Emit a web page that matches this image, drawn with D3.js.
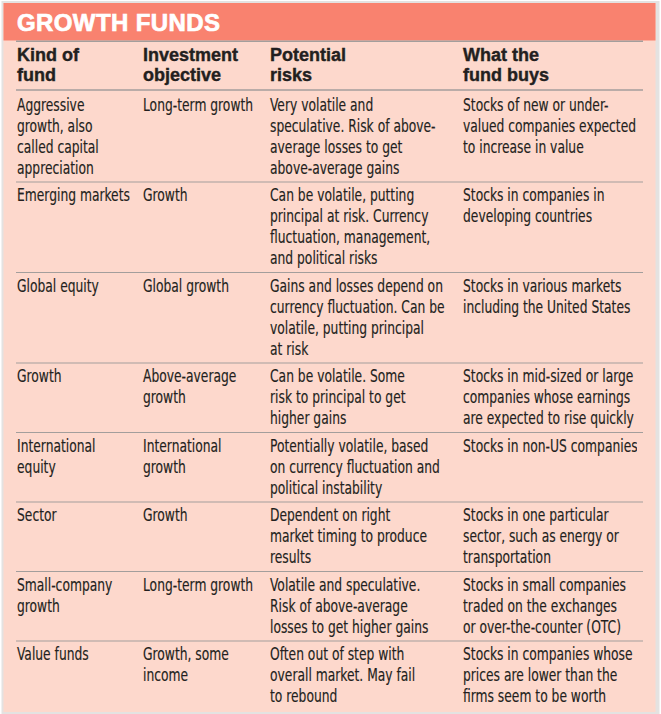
<!DOCTYPE html>
<html>
<head>
<meta charset="utf-8">
<script src="https://cdn.jsdelivr.net/npm/d3@7"></script>
<style>
  html, body { margin: 0; padding: 0; background: #ffffff; }
  svg { display: block; }
</style>
</head>
<body>
<div id="chart"></div>
<script>
// table content, each cell is a list of its printed lines
var title = "GROWTH FUNDS";
var headers = [["Kind of", "fund"], ["Investment", "objective"], ["Potential", "risks"], ["What the", "fund buys"]];
var kinds = [
  ["Aggressive", "growth, also", "called capital", "appreciation"],
  ["Emerging markets"],
  ["Global equity"],
  ["Growth"],
  ["International", "equity"],
  ["Sector"],
  ["Small-company", "growth"],
  ["Value funds"]
];
var objectives = [
  ["Long-term growth"],
  ["Growth"],
  ["Global growth"],
  ["Above-average", "growth"],
  ["International", "growth"],
  ["Growth"],
  ["Long-term growth"],
  ["Growth, some", "income"]
];
var risks = [
  ["Very volatile and", "speculative. Risk of above-", "average losses to get", "above-average gains"],
  ["Can be volatile, putting", "principal at risk. Currency", "fluctuation, management,", "and political risks"],
  ["Gains and losses depend on", "currency fluctuation. Can be", "volatile, putting principal", "at risk"],
  ["Can be volatile. Some", "risk to principal to get", "higher gains"],
  ["Potentially volatile, based", "on currency fluctuation and", "political instability"],
  ["Dependent on right", "market timing to produce", "results"],
  ["Volatile and speculative.", "Risk of above-average", "losses to get higher gains"],
  ["Often out of step with", "overall market. May fail", "to rebound"]
];
var buys = [
  ["Stocks of new or under-", "valued companies expected", "to increase in value"],
  ["Stocks in companies in", "developing countries"],
  ["Stocks in various markets", "including the United States"],
  ["Stocks in mid-sized or large", "companies whose earnings", "are expected to rise quickly"],
  ["Stocks in non-US companies"],
  ["Stocks in one particular", "sector, such as energy or", "transportation"],
  ["Stocks in small companies", "traded on the exchanges", "or over-the-counter (OTC)"],
  ["Stocks in companies whose", "prices are lower than the", "firms seem to be worth"]
];

var W = 661, H = 714;
var panel = { x: 3.5, y: 3, w: 652, h: 709 };
var bandH = 37.5;
var lineH = 21, rowPad = 6.5, bodyTop = 91.5;
var ink = "#231f20", pink = "#fdd8cc", coral = "#f9826f", rule = "#a39e9c";
var narrow = "'Liberation Sans Narrow', 'Arial Narrow', 'DejaVu Sans Condensed', sans-serif";
var bold = "'Liberation Sans', Arial, sans-serif";

var columns = ["kind", "objective", "risk", "buys"];
var x = d3.scaleOrdinal().domain(columns).range([17, 143, 270, 463]);

var rows = kinds.map(function(k, i) {
  var cells = [k, objectives[i], risks[i], buys[i]];
  return { cells: cells, n: d3.max(cells, function(c) { return c.length; }) };
});
// row tops from line counts
var tops = [bodyTop];
rows.forEach(function(r, i) { tops.push(tops[i] + r.n * lineH + rowPad); });
rows.forEach(function(r, i) { r.top = tops[i]; });

var svg = d3.select("#chart").append("svg")
  .attr("width", W)
  .attr("height", H);

// soft border / shadow
svg.append("rect")
  .attr("x", panel.x - 2).attr("y", panel.y - 2)
  .attr("width", panel.w + 6).attr("height", panel.h + 4)
  .attr("fill", "#e4e2e1");
svg.append("rect")
  .attr("x", panel.x).attr("y", panel.y)
  .attr("width", panel.w).attr("height", panel.h)
  .attr("fill", pink);
svg.append("rect")
  .attr("x", panel.x).attr("y", panel.y)
  .attr("width", panel.w).attr("height", bandH)
  .attr("fill", coral);

svg.append("text")
  .attr("x", 17).attr("y", 31)
  .attr("fill", "#ffffff")
  .attr("stroke", "#ffffff")
  .attr("stroke-width", 0.7)
  .style("font-family", bold)
  .style("font-weight", "bold")
  .style("font-size", "24px")
  .style("letter-spacing", "0.4px")
  .text(title);

// rules under band, under headers and between rows
var ruleYs = [panel.y + bandH + 0.8, 90].concat(tops.slice(1, rows.length));
svg.selectAll(".rule")
  .data(ruleYs)
  .enter()
  .append("line")
  .attr("class", "rule")
  .attr("x1", 16).attr("x2", 643)
  .attr("y1", function(d) { return d; })
  .attr("y2", function(d) { return d; })
  .attr("stroke", rule)
  .attr("stroke-width", function(d, i) { return i < 2 ? 1.4 : 1.2; });

// column headers
var head = svg.selectAll(".head")
  .data(headers)
  .enter()
  .append("text")
  .attr("class", "head")
  .attr("fill", ink)
  .attr("stroke", ink)
  .attr("stroke-width", 0.4)
  .style("font-family", bold)
  .style("font-weight", "bold")
  .style("font-size", "18px");
head.selectAll("tspan")
  .data(function(d, i) { return d.map(function(t) { return { t: t, col: columns[i] }; }); })
  .enter()
  .append("tspan")
  .attr("x", function(d) { return x(d.col); })
  .attr("y", function(d, j) { return 61 + j * 20; })
  .text(function(d) { return d.t; });

// body cells
svg.append("clipPath").attr("id", "clip")
  .append("rect").attr("x", 0).attr("y", 0).attr("width", 637).attr("height", H);

var body = svg.append("g").attr("clip-path", "url(#clip)");

// fit the condensed face to the printed width
var probe = body.append("text")
  .style("font-family", narrow).style("font-size", "17px")
  .text("Emerging markets");
var k = 113 / probe.node().getComputedTextLength();
if (Math.abs(k - 1) < 0.02) k = 1;
probe.remove();

var lines = [];
rows.forEach(function(r) {
  r.cells.forEach(function(c, ci) {
    c.forEach(function(t, li) {
      lines.push({ t: t, x: x(columns[ci]), y: r.top + 19 + li * lineH });
    });
  });
});

body.selectAll(".cell")
  .data(lines)
  .enter()
  .append("text")
  .attr("class", "cell")
  .attr("transform", function(d) { return "translate(" + d.x + "," + d.y + ") scale(" + k + ",1)"; })
  .attr("fill", ink)
  .attr("stroke", ink)
  .attr("stroke-width", 0.15)
  .style("font-family", narrow)
  .style("font-size", "17px")
  .text(function(d) { return d.t; });
</script>
</body>
</html>
